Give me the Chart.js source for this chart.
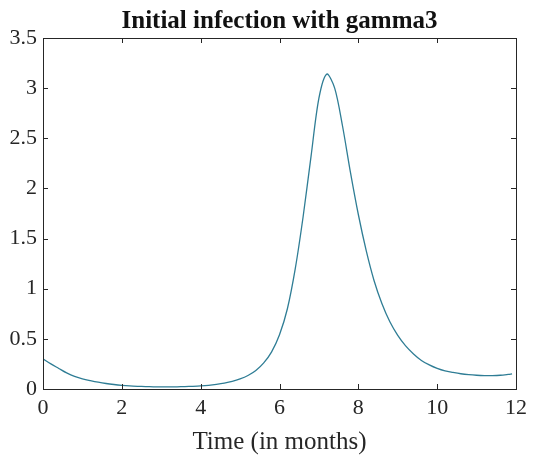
<!DOCTYPE html>
<html>
<head>
<meta charset="utf-8">
<title>Initial infection with gamma3</title>
<script src="https://cdn.jsdelivr.net/npm/chart.js@4.4.1/dist/chart.umd.min.js"></script>
<style>
  html, body { margin: 0; padding: 0; background: #fff; }
  #wrap { width: 533px; height: 461px; }
</style>
</head>
<body>
<div id="wrap"><canvas id="infection-chart"></canvas></div>
<script>
// time in months, infected fraction
const months = [0, 0.2, 0.4, 0.6, 0.8, 1.0, 1.2, 1.4, 1.6, 1.8, 2.0, 2.2, 2.4, 2.6, 2.8, 3.0,
  3.2, 3.4, 3.6, 3.8, 4.0, 4.2, 4.4, 4.6, 4.8, 5.0, 5.2, 5.4, 5.6, 5.8, 6.0,
  6.2, 6.4, 6.6, 6.8, 7.0, 7.2, 7.4, 7.6, 7.8, 8.0, 8.2, 8.4, 8.6, 8.8, 9.0,
  9.2, 9.4, 9.6, 9.8, 10.0, 10.2, 10.4, 10.6, 10.8, 11.0, 11.2, 11.4, 11.6, 11.8, 11.9];
const infected = [0.30, 0.25, 0.205, 0.16, 0.125, 0.102, 0.084, 0.068, 0.055, 0.045, 0.037, 0.031, 0.027, 0.024, 0.022, 0.021,
  0.021, 0.022, 0.024, 0.027, 0.031, 0.037, 0.046, 0.058, 0.075, 0.10, 0.135, 0.185, 0.26, 0.37, 0.54,
  0.80, 1.20, 1.72, 2.32, 2.90, 3.14, 3.00, 2.62, 2.16, 1.74, 1.38, 1.08, 0.85, 0.67, 0.535,
  0.43, 0.35, 0.285, 0.24, 0.205, 0.18, 0.165, 0.152, 0.143, 0.137, 0.134, 0.134, 0.137, 0.145, 0.150];
const xTicks = [0, 2, 4, 6, 8, 10, 12];
const yTicks = [0, 0.5, 1, 1.5, 2, 2.5, 3, 3.5];
const chartTitle = 'Initial infection with gamma3';

const axisColor = '#262626';
const serif = '"Liberation Serif", "Times New Roman", serif';

// matlab-style box with inward tick marks on all four sides,
// and the title centred over the axes rather than the canvas
const boxAxes = {
  id: 'boxAxes',
  afterDatasetsDraw(chart) {
    const { ctx, chartArea: a, scales } = chart;
    const len = 5;
    ctx.save();
    ctx.strokeStyle = axisColor;
    ctx.lineWidth = 1;
    ctx.beginPath();
    xTicks.forEach(v => {
      const px = Math.round(scales.x.getPixelForValue(v)) + 0.5;
      ctx.moveTo(px, a.bottom); ctx.lineTo(px, a.bottom - len);
      ctx.moveTo(px, a.top); ctx.lineTo(px, a.top + len);
    });
    yTicks.forEach(v => {
      const py = Math.round(scales.y.getPixelForValue(v)) + 0.5;
      ctx.moveTo(a.left, py); ctx.lineTo(a.left + len, py);
      ctx.moveTo(a.right, py); ctx.lineTo(a.right - len, py);
    });
    ctx.stroke();
    ctx.strokeRect(Math.round(a.left) + 0.5, Math.round(a.top) + 0.5,
      Math.round(a.right - a.left), Math.round(a.bottom - a.top));

    ctx.fillStyle = '#111';
    ctx.font = 'bold 25px ' + serif;
    ctx.textAlign = 'center';
    ctx.textBaseline = 'alphabetic';
    ctx.fillText(chartTitle, (a.left + a.right) / 2, a.top - 10);
    ctx.restore();
  }
};

const points = months.map((m, i) => ({ x: m, y: infected[i] }));

new Chart(document.getElementById('infection-chart'), {
  type: 'line',
  data: {
    datasets: [{
      data: points,
      borderColor: '#2f7d95',
      borderWidth: 1.3,
      pointRadius: 0,
      tension: 0.3,
      fill: false
    }]
  },
  options: {
    responsive: true,
    maintainAspectRatio: false,
    animation: false,
    layout: { padding: { left: 0, right: 13, top: 38, bottom: 0 } },
    plugins: {
      legend: { display: false },
      tooltip: { enabled: false },
      title: { display: false }
    },
    scales: {
      x: {
        type: 'linear',
        min: 0,
        max: 12,
        afterBuildTicks(scale) { scale.ticks = xTicks.map(v => ({ value: v })); },
        afterFit(scale) { scale.height = 72; },
        grid: { display: false, drawTicks: false },
        border: { display: false },
        ticks: { color: axisColor, font: { family: serif, size: 22 }, padding: 6, maxRotation: 0,
          callback: v => String(v) },
        title: {
          display: true,
          text: 'Time (in months)',
          color: axisColor,
          font: { family: serif, size: 25 },
          padding: { top: 0, bottom: 4 }
        }
      },
      y: {
        min: 0,
        max: 3.5,
        afterBuildTicks(scale) { scale.ticks = yTicks.map(v => ({ value: v })); },
        afterFit(scale) { scale.width = 43; },
        grid: { display: false, drawTicks: false },
        border: { display: false },
        ticks: { color: axisColor, font: { family: serif, size: 22 }, padding: 6,
          callback: v => String(v) }
      }
    }
  },
  plugins: [boxAxes]
});
</script>
</body>
</html>
